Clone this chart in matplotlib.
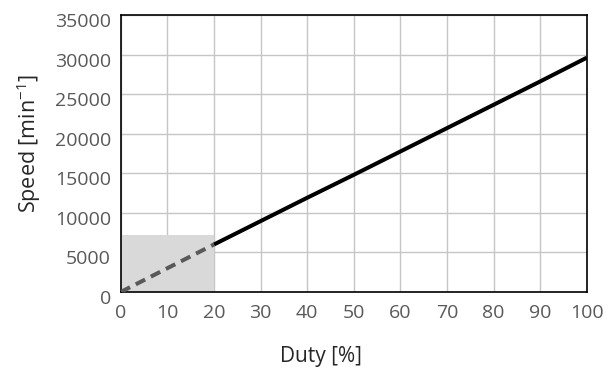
import matplotlib
matplotlib.use("Agg")
import matplotlib.pyplot as plt
from matplotlib.patches import Rectangle
from matplotlib.transforms import ScaledTranslation

duty_solid = [20, 30, 40, 50, 60, 70, 80, 90, 100]
speed_solid = [6000, 8950, 11900, 14800, 17750, 20700, 23650, 26600, 29600]
duty_dashed = [0, 20]
speed_dashed = [0, 6000]
shade_duty = [0, 20]
shade_speed_top = 7200
xticks = list(range(0, 101, 10))
yticks = list(range(0, 35001, 5000))

plt.rcParams['font.family'] = ['Open Sans', 'DejaVu Sans']
plt.rcParams['mathtext.default'] = 'regular'

W, H = 610, 368
fig = plt.figure(figsize=(W / 100, H / 100), dpi=100)
ax = fig.add_axes([120.7 / W, (H - 292) / H, (586.7 - 120.7) / W, (292 - 15) / H])

ax.add_patch(Rectangle((shade_duty[0], 0), shade_duty[1] - shade_duty[0], shade_speed_top,
                       facecolor='#d9d9d9', edgecolor='none', zorder=1.5))
ax.plot(duty_solid, speed_solid, color='black', lw=2.9, zorder=3, solid_capstyle='butt')
ax.plot(duty_dashed, speed_dashed, color='#595959', lw=2.9, ls=(0, (2.6, 1.6)), zorder=3)

ax.set_xlim(0, 100)
ax.set_ylim(0, 35000)
ax.set_xticks(xticks)
ax.set_yticks(yticks)
ax.grid(True, color='#c6c6c6', lw=1.0, zorder=1)
ax.set_axisbelow(True)
for s in ax.spines.values():
    s.set_color('black')
    s.set_linewidth(1.2)
ax.tick_params(length=0, labelsize=14, labelcolor='#595959')
ax.tick_params(axis='x', pad=9)
ax.tick_params(axis='y', pad=7)
off = ScaledTranslation(0, -5 / 100, fig.dpi_scale_trans)
for lab in ax.get_yticklabels():
    lab.set_transform(lab.get_transform() + off)

fig.text(321 / W, (H - 362) / H, 'Duty [%]', fontsize=15, color='#262626',
         ha='center', va='baseline')
fig.text(29 / W, (H - 144) / H, 'Speed [min$^{-1}$]', fontsize=15.5, color='#262626',
         ha='center', va='center', rotation=90)

fig.savefig('out.png', dpi=100)
